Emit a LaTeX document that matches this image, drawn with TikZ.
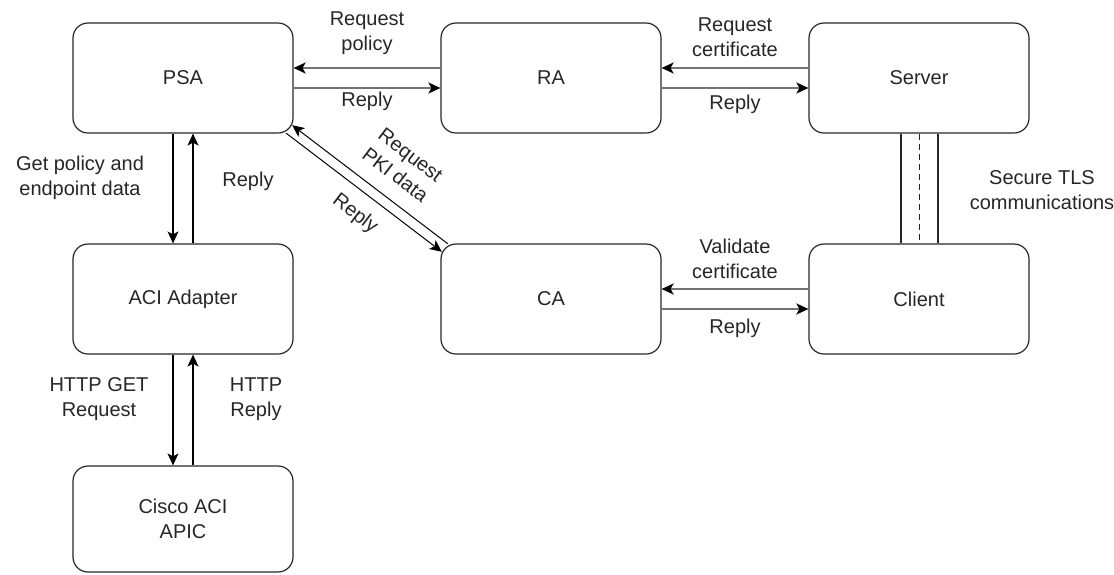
\documentclass[tikz,border=0pt]{standalone}
\usepackage{fontspec}
\setmainfont{Liberation Sans}
\usetikzlibrary{arrows.meta,calc}
\begin{document}
\begin{tikzpicture}[x=1pt,y=-1pt,
  font=\fontsize{20}{25}\selectfont,
  every node/.style={text=black!85},
  block/.style={draw=black!85,line width=1.2pt,rounded corners=15pt,
    minimum width=220pt,minimum height=110pt,align=center,inner sep=0pt},
  lbl/.style={align=center,inner sep=0pt},
  tip/.style={-{Stealth[length=12pt,width=11pt,inset=3pt,black]}},
  harrow/.style={draw=black!55,line width=2pt,tip},
  varrow/.style={draw=black,line width=1.2pt,tip},
  plain/.style={draw=black!85,line width=1.2pt}]
\useasboundingbox (0,0) rectangle (1114,574);

% boxes
\node[block] (PSA)    at (183,78)  {PSA};
\node[block] (RA)     at (551,78)  {RA};
\node[block] (Server) at (919,78)  {Server};
\node[block] (ACI)    at (183,299) {ACI Adapter};
\node[block] (CA)     at (551,299) {CA};
\node[block] (Client) at (919,299) {Client};
\node[block,minimum height=106pt] (APIC) at (183,519) {Cisco ACI\\APIC};

% PSA <-> RA
\draw[harrow] ([yshift=10pt]RA.west) -- ([yshift=10pt]PSA.east);
\draw[harrow] ([yshift=-10pt]PSA.east) -- ([yshift=-10pt]RA.west);
\node[lbl] (lrp) at (367,33) {Request\\policy};
\node[lbl] (lr1) at (367,101) {Reply};

% RA <-> Server
\draw[harrow] ([yshift=10pt]Server.west) -- ([yshift=10pt]RA.east);
\draw[harrow] ([yshift=-10pt]RA.east) -- ([yshift=-10pt]Server.west);
\node[lbl] (lrc) at (735,37) {Request\\certificate};
\node[lbl] (lr2) at (735,104) {Reply};

% CA <-> Client
\draw[harrow] ([yshift=10pt]Client.west) -- ([yshift=10pt]CA.east);
\draw[harrow] ([yshift=-10pt]CA.east) -- ([yshift=-10pt]Client.west);
\node[lbl] (lvc) at (735,259) {Validate\\certificate};
\node[lbl] (lr3) at (735,328) {Reply};

% PSA <-> ACI Adapter
\draw[varrow] ([xshift=-10pt]PSA.south) -- ([xshift=-10pt]ACI.north);
\draw[varrow] ([xshift=10pt]ACI.north) -- ([xshift=10pt]PSA.south);
\node[lbl] (lgp) at (80,178) {Get policy and\\endpoint data};
\node[lbl] (lr4) at (248,181) {Reply};

% ACI Adapter <-> APIC
\draw[varrow] ([xshift=-10pt]ACI.south) -- ([xshift=-10pt]APIC.north);
\draw[varrow] ([xshift=10pt]APIC.north) -- ([xshift=10pt]ACI.south);
\node[lbl] (lhg) at (99,399) {HTTP GET\\Request};
\node[lbl] (lhr) at (256,399) {HTTP\\Reply};

% PSA <-> CA (diagonal)
\draw[varrow,line width=1pt] ([xshift=7.4pt,yshift=-0.4pt]CA.north west) -- ([xshift=-1.4pt,yshift=8.4pt]PSA.south east);
\draw[varrow,line width=1pt] ([xshift=-7.4pt,yshift=0.4pt]PSA.south east) -- ([xshift=1.4pt,yshift=-8.4pt]CA.north west);
\node[lbl,rotate=-37.4] (lpki) at (403,165) {Request\\PKI data};
\node[lbl,rotate=-37.4] (lr5) at (355,214) {Reply};

% Server -- Client secure channel
\draw[plain] ([xshift=-18pt]Server.south) -- ([xshift=-18pt]Client.north);
\draw[plain] ([xshift=19pt]Server.south) -- ([xshift=19pt]Client.north);
\draw[plain,line width=1pt,dash pattern=on 6pt off 4pt] (Server.south) -- (Client.north);
\node[lbl] (ltls) at (1042,190) {Secure TLS\\communications};
\end{tikzpicture}
\end{document}
